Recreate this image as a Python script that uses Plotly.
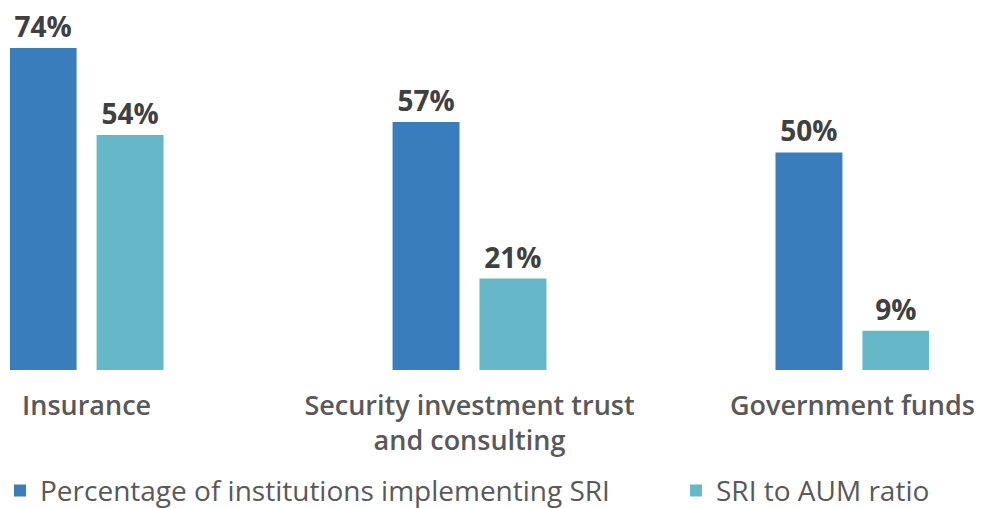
import plotly.graph_objects as go

categories = ["Insurance", "Security investment trust<br>and consulting", "Government funds"]
pct_institutions = [74, 57, 50]
sri_aum_ratio = [54, 21, 9]
series_names = ["Percentage of institutions implementing SRI", "SRI to AUM ratio"]
colors = ["#3a7dbd", "#66b8c9"]

FONT = "Open Sans"

fig = go.Figure()
for i, (name, vals, col) in enumerate(zip(series_names, [pct_institutions, sri_aum_ratio], colors)):
    fig.add_trace(go.Bar(
        x=categories, y=vals, name=name,
        marker=dict(color=col, line=dict(width=0)),
        text=[f"{v}%" for v in vals], textposition="outside",
        textfont=dict(family=FONT, size=28, color="#404040", weight="bold"),
        cliponaxis=False,
        legend="legend" if i == 0 else "legend2",
    ))

legend_common = dict(orientation="h", xref="container", yref="container",
                     yanchor="middle", y=0.034, xanchor="left",
                     font=dict(family=FONT, size=28, color="#595959"),
                     itemwidth=30, bgcolor="rgba(0,0,0,0)")

fig.update_layout(
    width=984, height=508,
    margin=dict(l=10, r=55, t=48, b=138, autoexpand=False),
    paper_bgcolor="white", plot_bgcolor="white",
    barmode="group", bargap=0.546, bargroupgap=0.23,
    showlegend=True,
    legend=dict(x=0.0, **legend_common),
    legend2=dict(x=0.687, **legend_common),
    xaxis=dict(range=[-0.2, 2.2], showline=False, showgrid=False, ticks="",
               ticklabelstandoff=17,
               tickfont=dict(family=FONT, size=27, color="#595959", weight=600)),
    yaxis=dict(range=[0, 74], visible=False),
)

fig.write_html("out.html", config={"displayModeBar": False},
               post_script="document.body.style.margin='0';")
